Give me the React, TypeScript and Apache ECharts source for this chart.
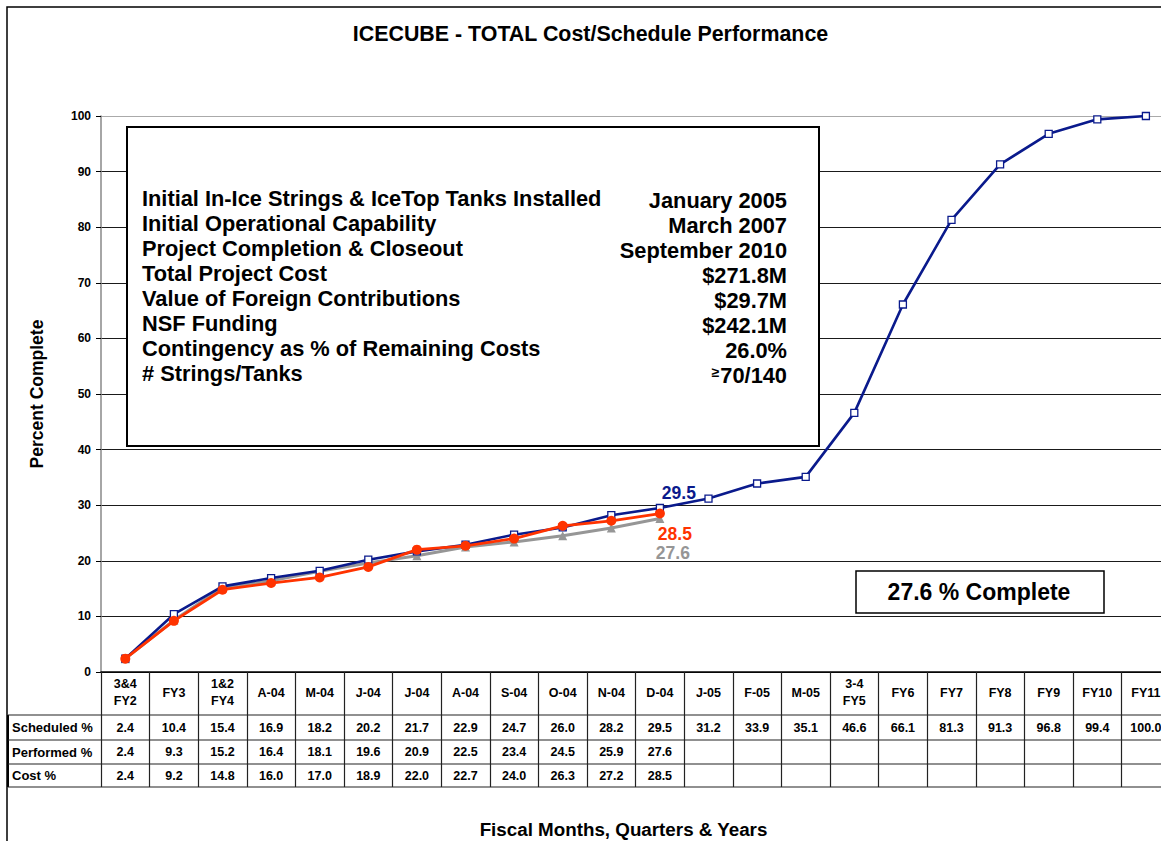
import React, { useEffect, useRef } from "react";
import * as echarts from "echarts";

const FONT = "Arial, 'Liberation Sans', Helvetica, sans-serif";

const categories = [
  "3&4\nFY2", "FY3", "1&2\nFY4", "A-04", "M-04", "J-04", "J-04", "A-04", "S-04", "O-04", "N-04",
  "D-04", "J-05", "F-05", "M-05", "3-4\nFY5", "FY6", "FY7", "FY8", "FY9", "FY10", "FY11",
];
const scheduled = [2.4, 10.4, 15.4, 16.9, 18.2, 20.2, 21.7, 22.9, 24.7, 26.0, 28.2, 29.5, 31.2, 33.9, 35.1, 46.6, 66.1, 81.3, 91.3, 96.8, 99.4, 100.0];
const performed = [2.4, 9.3, 15.2, 16.4, 18.1, 19.6, 20.9, 22.5, 23.4, 24.5, 25.9, 27.6];
const cost = [2.4, 9.2, 14.8, 16.0, 17.0, 18.9, 22.0, 22.7, 24.0, 26.3, 27.2, 28.5];

const rowNames = ["Scheduled %", "Performed %", "Cost %"];
const infoLabels = [
  "Initial In-Ice Strings & IceTop Tanks Installed",
  "Initial Operational Capability",
  "Project Completion & Closeout",
  "Total Project Cost",
  "Value of Foreign Contributions",
  "NSF Funding",
  "Contingency as % of Remaining Costs",
  "# Strings/Tanks",
];
const infoValues = [
  "January 2005",
  "March 2007",
  "September 2010",
  "$271.8M",
  "$29.7M",
  "$242.1M",
  "26.0%",
  "{s|≥}70/140",
];
const completeText = "27.6 % Complete";

const BLUE = "#0A1A8C";
const RED = "#FF3300";
const GRAY = "#969696";

export default function App() {
  const ref = useRef<HTMLDivElement>(null);

  useEffect(() => {
    if (!ref.current) return;
    const chart = echarts.init(ref.current, null, { renderer: "svg" });

    const gridLeft = 101;
    const gridTop = 116;
    const gridHeight = 556;
    const colW = 48.6;
    const gridWidth = colW * categories.length;
    const axisY = gridTop + gridHeight;
    const rowLines = [715, 740, 764, 787];
    const rowCenters = [727.5, 752, 775.5];
    const rowData = [scheduled, performed, cost];

    const fmt = (arr: number[]) => (_v: any, idx: number) =>
      idx < arr.length ? arr[idx].toFixed(1) : "";

    const tableAxis = (arr: number[], center: number) => ({
      type: "category",
      data: categories,
      gridIndex: 0,
      position: "bottom",
      offset: 0,
      boundaryGap: true,
      axisLine: { show: false },
      axisTick: { show: false },
      splitLine: { show: false },
      axisLabel: {
        interval: 0,
        margin: center - axisY,
        verticalAlign: "middle",
        fontSize: 12.5,
        fontWeight: "bold",
        fontFamily: FONT,
        color: "#000",
        formatter: fmt(arr),
      },
    });

    const lastLabel = (v: number, color: string, offset: number[]) => ({
      value: v,
      label: {
        show: true,
        position: "inside",
        offset,
        formatter: v.toFixed(1),
        color,
        fontSize: 17.5,
        lineHeight: 17,
        fontWeight: "bold",
        fontFamily: FONT,
      },
    });

    const graphics: any[] = [
      {
        type: "rect",
        shape: { x: 7, y: 7, width: 1400, height: 1000 },
        style: { fill: "none", stroke: "#000", lineWidth: 1.5 },
        z: 1,
      },
      {
        type: "text",
        x: 590.5,
        y: 34,
        style: {
          text: "ICECUBE - TOTAL Cost/Schedule Performance",
          fontSize: 21.4,
          fontWeight: "bold",
          fontFamily: FONT,
          fill: "#000",
          textAlign: "center",
          textVerticalAlign: "middle",
        },
        z: 10,
      },
      {
        type: "text",
        x: 623.5,
        y: 829.5,
        style: {
          text: "Fiscal Months, Quarters & Years",
          fontSize: 18.8,
          fontWeight: "bold",
          fontFamily: FONT,
          fill: "#000",
          textAlign: "center",
          textVerticalAlign: "middle",
        },
        z: 10,
      },
      // info box
      {
        type: "rect",
        shape: { x: 127, y: 127, width: 692, height: 319 },
        style: { fill: "#fff", stroke: "#000", lineWidth: 2 },
        z: 10,
      },
      // complete box
      {
        type: "rect",
        shape: { x: 856, y: 571, width: 248, height: 42 },
        style: { fill: "#fff", stroke: "#000", lineWidth: 1.5 },
        z: 10,
      },
      {
        type: "text",
        x: 979,
        y: 592,
        style: {
          text: completeText,
          fontSize: 23,
          fontWeight: "bold",
          fontFamily: FONT,
          fill: "#000",
          textAlign: "center",
          textVerticalAlign: "middle",
        },
        z: 11,
      },
      // table left border (thick)
      {
        type: "line",
        shape: { x1: 8, y1: rowLines[0], x2: 8, y2: rowLines[3] },
        style: { stroke: "#000", lineWidth: 2 },
        z: 10,
      },
    ];

    rowLines.forEach((y) => {
      graphics.push({
        type: "line",
        shape: { x1: 8, y1: y, x2: 1400, y2: y },
        style: { stroke: "#222", lineWidth: 1.2 },
        z: 10,
      });
    });

    rowNames.forEach((name, i) => {
      graphics.push({
        type: "text",
        x: 12,
        y: rowCenters[i],
        style: {
          text: name,
          fontSize: 13,
          fontWeight: "bold",
          fontFamily: FONT,
          fill: "#000",
          textAlign: "left",
          textVerticalAlign: "middle",
        },
        z: 11,
      });
    });

    infoLabels.forEach((t, i) => {
      const y = 198 + i * 25;
      graphics.push({
        type: "text",
        x: 142,
        y,
        style: {
          text: t,
          fontSize: 21.8,
          fontWeight: "bold",
          fontFamily: FONT,
          fill: "#000",
          textAlign: "left",
          textVerticalAlign: "middle",
        },
        z: 11,
      });
      graphics.push({
        type: "text",
        x: 787,
        y: y + 2,
        style: {
          text: infoValues[i],
          fontSize: 21.8,
          fontWeight: "bold",
          fontFamily: FONT,
          fill: "#000",
          textAlign: "right",
          textVerticalAlign: "middle",
          rich: {
            s: { fontSize: 14, fontWeight: "bold", fontFamily: FONT, fill: "#000", padding: [0, 1, 6, 0] },
          },
        },
        z: 11,
      });
    });

    const splitColors = new Array(10).fill("#1a1a1a").concat(["#aaaaaa"]);

    chart.setOption({
      animation: false,
      backgroundColor: "#fff",
      grid: {
        left: gridLeft,
        top: gridTop,
        width: gridWidth,
        height: gridHeight,
        containLabel: false,
        outerBoundsMode: "none",
      },
      xAxis: [
        {
          type: "category",
          data: categories,
          position: "bottom",
          boundaryGap: true,
          axisLine: { show: true, lineStyle: { color: "#000", width: 1.5 } },
          axisTick: { show: true, interval: 0, length: rowLines[3] - axisY, lineStyle: { color: "#222", width: 1.2 } },
          splitLine: { show: false },
          axisLabel: {
            interval: 0,
            margin: 20.5,
            verticalAlign: "middle",
            lineHeight: 17,
            fontSize: 12.5,
            fontWeight: "bold",
            fontFamily: FONT,
            color: "#000",
          },
        },
        tableAxis(rowData[0], rowCenters[0]),
        tableAxis(rowData[1], rowCenters[1]),
        tableAxis(rowData[2], rowCenters[2]),
      ],
      yAxis: {
        type: "value",
        min: 0,
        max: 100,
        interval: 10,
        name: "Percent Complete",
        nameLocation: "middle",
        nameGap: 55,
        nameRotate: 90,
        nameTextStyle: { fontSize: 17.5, fontWeight: "bold", fontFamily: FONT, color: "#000" },
        axisLine: { show: true, lineStyle: { color: "#888", width: 1.5 } },
        axisTick: { show: true, length: 5, lineStyle: { color: "#000" } },
        axisLabel: { margin: 10, fontSize: 12, fontWeight: "bold", fontFamily: FONT, color: "#000" },
        splitLine: { show: true, lineStyle: { color: splitColors, width: 1 } },
      },
      graphic: { elements: graphics },
      series: [
        {
          name: "Performed %",
          type: "line",
          data: performed.map((v, i) => (i === performed.length - 1 ? lastLabel(v, GRAY, [13, 34]) : v)),
          symbol: "triangle",
          symbolSize: 9,
          itemStyle: { color: GRAY },
          lineStyle: { color: GRAY, width: 3 },
          z: 2,
        },
        {
          name: "Scheduled %",
          type: "line",
          data: scheduled.map((v, i) => (i === performed.length - 1 ? lastLabel(v, BLUE, [19, -15]) : v)),
          symbol: "rect",
          symbolSize: 7,
          itemStyle: { color: "#fff", borderColor: BLUE, borderWidth: 1.3 },
          lineStyle: { color: BLUE, width: 2.6 },
          z: 3,
        },
        {
          name: "Cost %",
          type: "line",
          data: cost.map((v, i) => (i === cost.length - 1 ? lastLabel(v, RED, [15, 20.5]) : v)),
          symbol: "circle",
          symbolSize: 10,
          itemStyle: { color: RED },
          lineStyle: { color: RED, width: 2.8 },
          z: 4,
        },
      ],
    });

    return () => chart.dispose();
  }, []);

  return (
    <div
      ref={ref}
      style={{ position: "fixed", left: 0, top: 0, width: 1161, height: 841, background: "#fff" }}
    />
  );
}
